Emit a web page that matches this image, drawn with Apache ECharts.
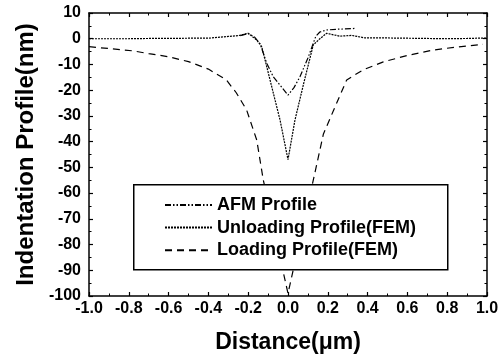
<!DOCTYPE html>
<html>
<head>
<meta charset="utf-8">
<script src="https://cdn.jsdelivr.net/npm/echarts@6/dist/echarts.min.js"></script>
<style>html,body{margin:0;padding:0;background:#fff;}#c{width:504px;height:354px;}</style>
</head>
<body>
<div id="c"></div>
<script>
var seriesNames = ['AFM Profile', 'Unloading Profile(FEM)', 'Loading Profile(FEM)'];
var xTicks = [-1.0, -0.8, -0.6, -0.4, -0.2, 0.0, 0.2, 0.4, 0.6, 0.8, 1.0];
var yTicks = [10, 0, -10, -20, -30, -40, -50, -60, -70, -80, -90, -100];

var afmProfile = [
  [-0.24, 1.2], [-0.2, 2.0], [-0.17, 0.8], [-0.14, -2.0], [-0.107, -9.5], [-0.074, -14.8],
  [-0.035, -18.5], [0.0, -21.9], [0.03, -19.0], [0.06, -14.8], [0.1, -7.5], [0.127, -1.8],
  [0.14, 1.0], [0.16, 2.6], [0.194, 3.4], [0.25, 3.7], [0.32, 3.9], [0.335, 4.0]
];
var unloadingProfile = [
  [-1.0, 0.0], [-0.9, 0.0], [-0.8, 0.0], [-0.7, 0.1], [-0.6, 0.1], [-0.5, 0.2], [-0.4, 0.2],
  [-0.3, 0.9], [-0.25, 1.2], [-0.2, 2.1], [-0.157, -0.5], [-0.132, -3.1], [-0.1, -13],
  [-0.04, -31.6], [0.0, -47.0], [0.035, -31.6], [0.08, -17], [0.127, -2.4], [0.16, 0.0],
  [0.194, 2.1], [0.26, 1.0], [0.32, 1.3], [0.387, 0.3], [0.5, 0.3], [0.6, 0.2], [0.7, 0.1],
  [0.8, 0.0], [0.9, 0.1], [1.0, 0.3]
];
var loadingProfile = [
  [-1.0, -3.1], [-0.9, -3.8], [-0.78, -4.7], [-0.7, -5.8], [-0.6, -7.0], [-0.5, -8.9],
  [-0.4, -11.8], [-0.31, -16.0], [-0.26, -21], [-0.208, -27.7], [-0.157, -39.4], [-0.124, -55],
  [-0.08, -70], [-0.05, -81], [-0.023, -91], [0.0, -99], [0.023, -91], [0.05, -81],
  [0.09, -68], [0.127, -55], [0.178, -37], [0.228, -28], [0.295, -16], [0.38, -12],
  [0.479, -9.0], [0.6, -6.5], [0.73, -4.4], [0.85, -3.2], [0.98, -2.2]
];

var chart = echarts.init(document.getElementById('c'), null, {renderer: 'canvas'});
var FONT = '"Liberation Sans", Arial, sans-serif';
var axisBase = {
  axisLine: {show: true, onZero: false, lineStyle: {color: '#000', width: 1.5}},
  axisTick: {show: true, inside: true, length: 4, lineStyle: {color: '#000', width: 1.2}},
  minorTick: {show: true, splitNumber: 2, length: 2.5, lineStyle: {color: '#000', width: 1}},
  splitLine: {show: false}
};
function xAx(pos, showLabel) {
  return Object.assign({}, axisBase, {
    type: 'value', position: pos, min: xTicks[0], max: xTicks[xTicks.length - 1], interval: 0.2,
    name: showLabel ? 'Distance(\u03bcm)' : '', nameLocation: 'middle', nameGap: 35,
    nameTextStyle: {fontFamily: FONT, fontWeight: 'bold', fontSize: 23, color: '#000'},
    axisLabel: {show: showLabel, margin: 5, fontFamily: FONT, fontWeight: 'bold', fontSize: 16, color: '#000',
      formatter: function (v) { return (Math.abs(v) < 1e-9 ? 0 : v).toFixed(1); }}
  });
}
function yAx(pos, showLabel) {
  return Object.assign({}, axisBase, {
    type: 'value', position: pos, min: yTicks[yTicks.length - 1], max: yTicks[0], interval: 10,
    name: showLabel ? 'Indentation Profile(nm)' : '', nameLocation: 'middle', nameGap: 51,
    nameTextStyle: {fontFamily: FONT, fontWeight: 'bold', fontSize: 24, color: '#000'},
    axisLabel: {show: showLabel, margin: 8, fontFamily: FONT, fontWeight: 'bold', fontSize: 16, color: '#000'}
  });
}
function mkSeries(name, data, type) {
  return {
    name: name, type: 'line', data: data, symbol: 'none', showSymbol: false, smooth: false,
    lineStyle: {color: '#000', width: 1.2, type: type}, itemStyle: {color: '#000'},
    xAxisIndex: 0, yAxisIndex: 0, z: 3
  };
}
chart.setOption({
  animation: false,
  backgroundColor: '#fff',
  grid: {left: 89, right: 17, top: 13, bottom: 58, containLabel: false, outerBoundsMode: 'none'},
  xAxis: [xAx('bottom', true), xAx('top', false)],
  yAxis: [yAx('left', true), yAx('right', false)],
  graphic: [{
    type: 'rect', z: 50, left: 133, top: 184,
    shape: {width: 314, height: 85},
    style: {fill: '#fff', stroke: '#000', lineWidth: 1.5}
  }],
  legend: {
    z: 60, orient: 'vertical', left: 159, top: 191, itemWidth: 47, itemHeight: 14, itemGap: 4.6,
    data: seriesNames,
    itemStyle: {opacity: 0},
    textStyle: {fontFamily: FONT, fontWeight: 'bold', fontSize: 18, color: '#000', lineHeight: 18}
  },
  series: [
    mkSeries(seriesNames[0], afmProfile, [6, 2, 1.5, 2, 1.5, 2]),
    mkSeries(seriesNames[1], unloadingProfile, [2, 1]),
    mkSeries(seriesNames[2], loadingProfile, [7, 5])
  ]
});
</script>
</body>
</html>
